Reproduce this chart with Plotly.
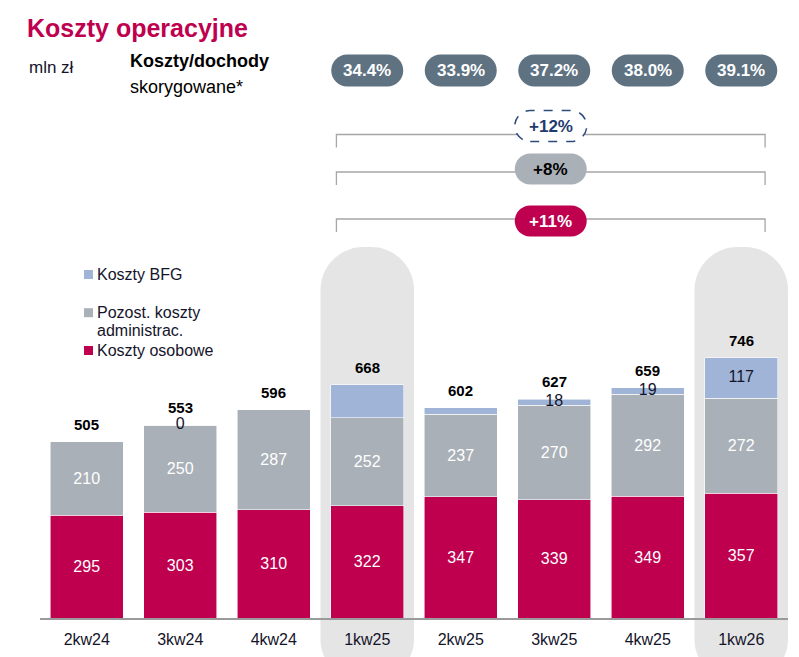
import plotly.graph_objects as go

# ---------------- data ----------------
categories = ["2kw24", "3kw24", "4kw24", "1kw25", "2kw25", "3kw25", "4kw25", "1kw26"]
koszty_osobowe = [295, 303, 310, 322, 347, 339, 349, 357]
pozost_admin = [210, 250, 287, 252, 237, 270, 292, 272]
koszty_bfg = [0, 0, 0, 94, 18, 18, 19, 117]
bfg_labels = ["", "0", "", "", "", "18", "19", "117"]
totals = [505, 553, 596, 668, 602, 627, 659, 746]
highlight_idx = [3, 7]
cost_income_idx = [3, 4, 5, 6, 7]
cost_income = ["34.4%", "33.9%", "37.2%", "38.0%", "39.1%"]
growth_labels = ["+12%", "+8%", "+11%"]

# ---------------- styles ----------------
C_OSOB = "#BE004F"
C_ADMIN = "#A9B0B7"
C_BFG = "#9FB4D6"
C_HL = "#E5E5E5"
C_PILL = "#5E7282"
C_TEXT = "#14142A"
FONT = "Arial, Liberation Sans, sans-serif"

W, H = 799, 657
ML, MR, MT, MB = 40, 11, 0, 39
PW = W - ML - MR
PH = H - MT - MB
PX_PER_UNIT = 0.349
YMAX = PH / PX_PER_UNIT


def px_x(px):
    return (px - ML) / PW


def px_y(py):
    return (PH + MT - py) / PH


def rr(x0, x1, y0, y1, rt, rb):
    k = 0.5523
    return (f"M{x0+rb},{y0} L{x1-rb},{y0} "
            f"C{x1-rb+k*rb},{y0} {x1},{y0+rb-k*rb} {x1},{y0+rb} "
            f"L{x1},{y1-rt} C{x1},{y1-rt+k*rt} {x1-rt+k*rt},{y1} {x1-rt},{y1} "
            f"L{x0+rt},{y1} C{x0+rt-k*rt},{y1} {x0},{y1-rt+k*rt} {x0},{y1-rt} "
            f"L{x0},{y0+rb} C{x0},{y0+rb-k*rb} {x0+rb-k*rb},{y0} {x0+rb},{y0} Z")


x = list(range(len(categories)))

fig = go.Figure()
fig.add_bar(x=x, y=koszty_osobowe, name="Koszty osobowe", marker_color=C_OSOB,
            marker_line=dict(color="rgba(255,255,255,0.7)", width=0.8),
            text=[str(v) for v in koszty_osobowe], textposition="inside",
            insidetextanchor="middle", textangle=0,
            textfont=dict(color="white", size=16, family=FONT), showlegend=False,
            hoverinfo="skip")
fig.add_bar(x=x, y=pozost_admin, name="Pozost. koszty administrac.", marker_color=C_ADMIN,
            marker_line=dict(color="rgba(255,255,255,0.7)", width=0.8),
            text=[str(v) for v in pozost_admin], textposition="inside",
            insidetextanchor="middle", textangle=0,
            textfont=dict(color="white", size=16, family=FONT), showlegend=False,
            hoverinfo="skip")
fig.add_bar(x=x, y=koszty_bfg, name="Koszty BFG", marker_color=C_BFG,
            marker_line=dict(color="rgba(255,255,255,0.7)", width=0.8),
            textposition="none", showlegend=False, hoverinfo="skip")
# BFG labels centred on their segments
fig.add_scatter(x=x, y=[o + a + b / 2 for o, a, b in zip(koszty_osobowe, pozost_admin, koszty_bfg)],
                mode="text", text=bfg_labels, textposition="middle center",
                textfont=dict(color=C_TEXT, size=16, family=FONT), showlegend=False,
                hoverinfo="skip", cliponaxis=False)

shapes = []
annotations = []

# highlight backgrounds
for i in highlight_idx:
    shapes.append(dict(type="path", layer="below", xref="x", yref="paper",
                       xsizemode="pixel", ysizemode="pixel", xanchor=i, yanchor=0,
                       path=rr(-46.75, 46.75, -60, 371, 43, 38),
                       fillcolor=C_HL, line=dict(width=0)))

# totals
for i, t in zip(x, totals):
    annotations.append(dict(x=i, y=t, xref="x", yref="y", text=f"<b>{t}</b>",
                            showarrow=False, xanchor="center", yanchor="bottom", yshift=8,
                            borderpad=0,
                            font=dict(size=15, color="black", family=FONT)))

# cost/income pills
pill_y = px_y(70.5)
for i, lab in zip(cost_income_idx, cost_income):
    shapes.append(dict(type="path", xref="x", yref="paper", xsizemode="pixel",
                       ysizemode="pixel", xanchor=i, yanchor=pill_y,
                       path=rr(-36, 36, -16, 16, 16, 16), fillcolor=C_PILL,
                       line=dict(width=0)))
    annotations.append(dict(x=i, y=pill_y, xref="x", yref="paper", text=f"<b>{lab}</b>",
                            showarrow=False, xanchor="center", yanchor="middle",
                            font=dict(size=17, color="white", family=FONT)))

# growth brackets
bx0, bx1 = 3 - 0.33, 7 + 0.255
bmid = (bx0 + bx1) / 2
bracket_py = [134.5, 172, 219]
pill_py = [126, 169, 221]
pill_fill = ["white", C_ADMIN, C_OSOB]
pill_line = [dict(color="#2F4B7C", width=1.5, dash="dash"), dict(width=0), dict(width=0)]
pill_txt = ["#1F3A6E", "black", "white"]
for lab, bpy, ppy, fc, ln, tc in zip(growth_labels, bracket_py, pill_py, pill_fill, pill_line, pill_txt):
    yt = px_y(bpy)
    yb = px_y(bpy + 13)
    shapes.append(dict(type="path", xref="x", yref="paper",
                       path=f"M{bx0},{yb} L{bx0},{yt} L{bx1},{yt} L{bx1},{yb}",
                       line=dict(color="#A6A6A6", width=1.3)))
    shapes.append(dict(type="path", xref="x", yref="paper", xsizemode="pixel",
                       ysizemode="pixel", xanchor=bmid, yanchor=px_y(ppy),
                       path=rr(-36, 36, -15.5, 15.5, 15.5, 15.5), fillcolor=fc, line=ln))
    annotations.append(dict(x=bmid, y=px_y(ppy), xref="x", yref="paper", text=f"<b>{lab}</b>",
                            showarrow=False, xanchor="center", yanchor="middle",
                            font=dict(size=17, color=tc, family=FONT)))

# manual legend
leg = [(C_BFG, ["Koszty BFG"], 274.5),
       (C_ADMIN, ["Pozost. koszty", "administrac."], 312.7),
       (C_OSOB, ["Koszty osobowe"], 350.5)]
for col, lines, cy in leg:
    shapes.append(dict(type="rect", xref="paper", yref="paper",
                       x0=px_x(84), x1=px_x(93), y0=px_y(cy + 4.5), y1=px_y(cy - 4.5),
                       fillcolor=col, line=dict(width=0)))
    for j, ln_text in enumerate(lines):
        annotations.append(dict(x=px_x(95), y=px_y(cy + j * 17.5), xref="paper", yref="paper",
                                text=ln_text, showarrow=False, xanchor="left", yanchor="middle",
                                font=dict(size=16, color=C_TEXT, family=FONT)))

# header texts
annotations.append(dict(x=px_x(25), y=px_y(28), xref="paper", yref="paper",
                        text="<b>Koszty operacyjne</b>", showarrow=False, xanchor="left",
                        yanchor="middle", font=dict(size=25, color=C_OSOB, family=FONT)))
annotations.append(dict(x=px_x(27), y=px_y(67), xref="paper", yref="paper",
                        text="mln zł", showarrow=False, xanchor="left",
                        yanchor="middle", font=dict(size=17, color=C_TEXT, family=FONT)))
annotations.append(dict(x=px_x(128), y=px_y(61), xref="paper", yref="paper",
                        text="<b>Koszty/dochody</b>", showarrow=False, xanchor="left",
                        yanchor="middle", font=dict(size=18, color="black", family=FONT)))
annotations.append(dict(x=px_x(128), y=px_y(87), xref="paper", yref="paper",
                        text="skorygowane*", showarrow=False, xanchor="left",
                        yanchor="middle", font=dict(size=18, color="black", family=FONT)))

fig.update_layout(
    width=W, height=H,
    margin=dict(l=ML, r=MR, t=MT, b=MB),
    barmode="stack", bargap=0.22,
    paper_bgcolor="white", plot_bgcolor="white",
    shapes=shapes, annotations=annotations,
    showlegend=False,
    xaxis=dict(range=[-0.5, 7.5], tickvals=x, ticktext=categories, showgrid=False,
               zeroline=False, showline=True, linecolor="#9A9A9A", linewidth=1.5,
               ticks="", ticklabelstandoff=6,
               tickfont=dict(size=16, color=C_TEXT, family=FONT), fixedrange=True),
    yaxis=dict(range=[0, YMAX], visible=False, fixedrange=True),
)

fig.write_html("out.html")
